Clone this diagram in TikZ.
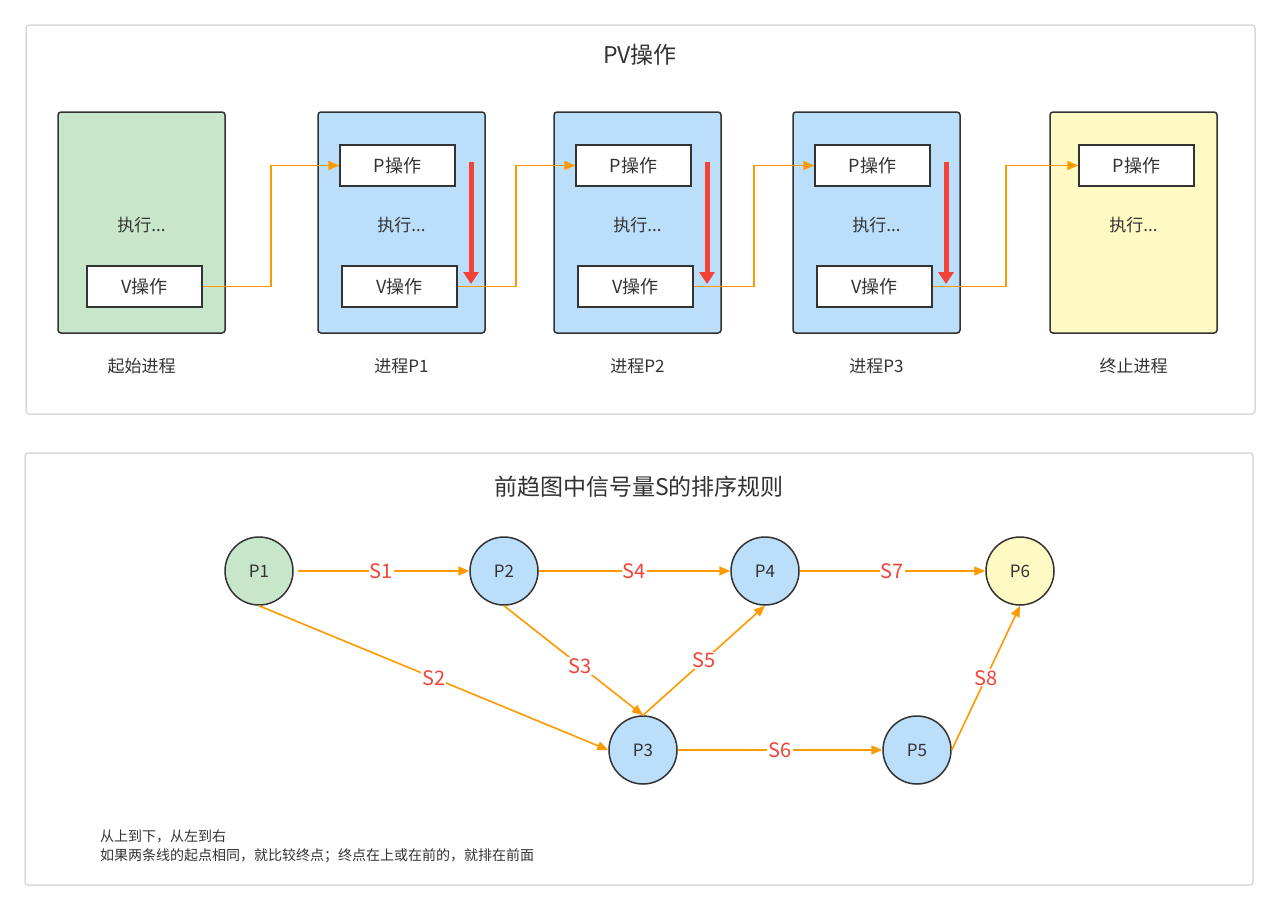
\documentclass[tikz,border=0pt]{standalone}
\usepackage{fontspec}
\newfontfamily\cjk{Noto Sans CJK SC}
\usetikzlibrary{arrows.meta}
\definecolor{grn}{HTML}{C8E6C9}
\definecolor{blu}{HTML}{BBDEFB}
\definecolor{yel}{HTML}{FFF9C4}
\definecolor{org}{HTML}{FF9900}
\definecolor{rd}{HTML}{F44336}
\definecolor{txt}{HTML}{333333}
\begin{document}
\begin{tikzpicture}[x=1pt,y=-1pt,font=\cjk,text=txt,
 panel/.style={draw=black!15,line width=1.5pt,rounded corners=3pt},
 proc/.style={draw=txt,line width=1.5pt,rounded corners=3pt,minimum width=167pt,minimum height=221pt,inner sep=0pt},
 op/.style={draw=txt,line width=1.5pt,fill=white,minimum width=115pt,minimum height=41pt,inner sep=0pt,font=\cjk\fontsize{18}{20}\selectfont},
 lab/.style={font=\cjk\fontsize{17}{20}\selectfont},
 conn/.style={draw=org,line width=1.6pt,-{Triangle[length=11pt,width=9pt]}},
 red/.style={draw=rd,line width=5pt,-{Triangle[length=12pt,width=15pt]}},
 cir/.style={circle,draw=txt,line width=1.5pt,minimum size=68pt,inner sep=0pt,font=\cjk\fontsize{17}{20}\selectfont},
 sl/.style={fill=white,text=rd,inner sep=1pt,font=\cjk\fontsize{20}{22}\selectfont}]
\useasboundingbox (0,0) rectangle (1280,911);
\fill[white] (0,0) rectangle (1280,911);
\draw[panel] (26,25) rectangle (1255,414);
\draw[panel] (25,453) rectangle (1253,885);
\node[font=\cjk\fontsize{23}{26}\selectfont] (t1) at (640,55) {PV操作};
\node[font=\cjk\fontsize{23}{26}\selectfont] (t2) at (639,487) {前趋图中信号量S的排序规则};
\node[proc,fill=grn] (B0) at (141.5,222.5) {};
\node[proc,fill=blu] (B1) at (401.5,222.5) {};
\node[proc,fill=blu] (B2) at (637.5,222.5) {};
\node[proc,fill=blu] (B3) at (876.5,222.5) {};
\node[proc,fill=yel] (B4) at (1133.5,222.5) {};
\foreach \i/\x in {0/141.5,1/401.5,2/637.5,3/876.5,4/1133.5}{
  \node[lab] (e\i) at (\x,225) {执行...};
}
\node[lab] (n0) at (141.5,366) {起始进程};
\node[lab] (n1) at (401.5,366) {进程P1};
\node[lab] (n2) at (637.5,366) {进程P2};
\node[lab] (n3) at (876.5,366) {进程P3};
\node[lab] (n4) at (1133.5,366) {终止进程};
\node[op] (V0) at (144.5,286.5) {V操作};
\node[op] (P1) at (397.5,165.5) {P操作};
\node[op] (V1) at (399.5,286.5) {V操作};
\node[op] (P2) at (633.5,165.5) {P操作};
\node[op] (V2) at (635.5,286.5) {V操作};
\node[op] (P3) at (872.5,165.5) {P操作};
\node[op] (V3) at (874.5,286.5) {V操作};
\node[op] (P4) at (1136.5,165.5) {P操作};
\draw[conn] (V0.east) -- (271,286.5) -- (271,165.5) -- (P1.west);
\draw[conn] (V1.east) -- (516,286.5) -- (516,165.5) -- (P2.west);
\draw[conn] (V2.east) -- (754,286.5) -- (754,165.5) -- (P3.west);
\draw[conn] (V3.east) -- (1006,286.5) -- (1006,165.5) -- (P4.west);
\coordinate (r1a) at (471,162); \coordinate (r1b) at (471,284);
\coordinate (r2a) at (707,162); \coordinate (r2b) at (707,284);
\coordinate (r3a) at (946,162); \coordinate (r3b) at (946,284);
\draw[red] (r1a) -- (r1b);
\draw[red] (r2a) -- (r2b);
\draw[red] (r3a) -- (r3b);
\node[cir,fill=grn] (c1) at (259,571) {P1};
\node[cir,fill=blu] (c2) at (504,571) {P2};
\node[cir,fill=blu] (c4) at (765,571) {P4};
\node[cir,fill=yel] (c6) at (1020,571) {P6};
\node[cir,fill=blu] (c3) at (643,750) {P3};
\node[cir,fill=blu] (c5) at (917,750) {P5};
\draw[conn,shorten <=4pt] (c1) -- node[sl]{S1} (c2);
\draw[conn] (c2) -- node[sl]{S4} (c4);
\draw[conn] (c4) -- node[sl]{S7} (c6);
\draw[conn] (c1.south) -- node[sl,pos=0.5]{S2} (c3.west);
\draw[conn] (c2.south) -- node[sl,pos=0.55]{S3} (c3.north);
\draw[conn] (c3.north) -- node[sl,pos=0.5]{S5} (c4.south);
\draw[conn] (c3) -- node[sl,pos=0.5]{S6} (c5);
\draw[conn] (c5.east) -- node[sl,pos=0.5]{S8} (c6.south);
\node[anchor=north west,align=left,font=\cjk\fontsize{14}{19}\selectfont,inner sep=0pt] (note) at (100,830) {从上到下，从左到右\\如果两条线的起点相同，就比较终点；终点在上或在前的，就排在前面};
\end{tikzpicture}
\end{document}
